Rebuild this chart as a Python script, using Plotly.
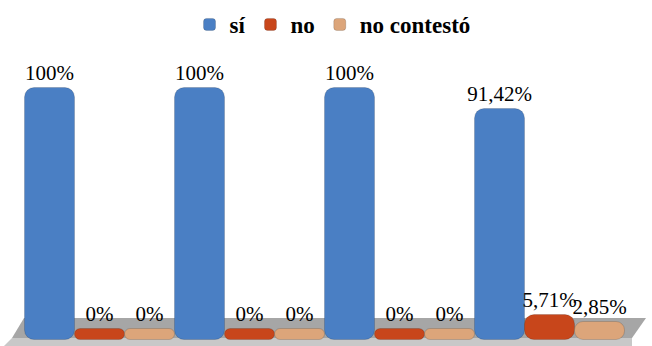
import plotly.graph_objects as go

categories = ["Grupo 1", "Grupo 2", "Grupo 3", "Grupo 4"]
series_names = ["sí", "no", "no contestó"]
si_values = [100, 100, 100, 91.42]
no_values = [0, 0, 0, 5.71]
nc_values = [0, 0, 0, 2.85]
colors = ["#4a7fc4", "#c8461b", "#dca57a"]

SLAB = 4.5  # visual floor thickness for the 3D-look bars
SERIF = "Liberation Serif"


def fmt(v):
    s = ("%.2f" % v).rstrip("0").rstrip(".")
    return s.replace(".", ",") + "%"


fig = go.Figure()
for name, vals, col in zip(series_names, [si_values, no_values, nc_values], colors):
    fig.add_trace(go.Bar(
        x=categories,
        y=[v + SLAB for v in vals],
        base=[-SLAB] * len(vals),
        name=name,
        marker=dict(color=col, line=dict(color="rgba(0,0,0,0.15)", width=1)),
        text=[fmt(v) for v in vals],
        textposition="outside",
        constraintext="none",
        textfont=dict(family=SERIF, size=21, color="black"),
        cliponaxis=False,
    ))

W, H = 652, 346
T, B = 40, 6
PH = H - T - B


def px(x):
    return x / W


def py(y):
    return (H - B - y) / PH


floor_path = "M {} {} L {} {} L {} {} L {} {} Z".format(
    px(24), py(318), px(646), py(318), px(632), py(338), px(12), py(338))
front_path = "M {} {} L {} {} L {} {} L {} {} Z".format(
    px(12), py(338), px(632), py(338), px(632), py(346), px(4), py(346))

fig.update_layout(
    width=W, height=H,
    margin=dict(l=0, r=0, t=T, b=B),
    paper_bgcolor="white", plot_bgcolor="white",
    font=dict(family=SERIF),
    barmode="group", bargap=0, bargroupgap=0,
    barcornerradius=10,
    showlegend=True,
    legend=dict(orientation="h", x=0.51, xanchor="center", y=py(3), yanchor="top",
                font=dict(family=SERIF, size=23, color="black", weight="bold"),
                itemwidth=30, traceorder="normal"),
    xaxis=dict(visible=False, range=[-0.667, 3.68]),
    yaxis=dict(visible=False, range=[-4.5, 119.9]),
    shapes=[
        dict(type="path", path=floor_path, xref="paper", yref="paper",
             fillcolor="#a6a6a6", line=dict(width=0), layer="below"),
        dict(type="path", path=front_path, xref="paper", yref="paper",
             fillcolor="#c8c8c8", line=dict(width=0), layer="below"),
    ],
)

fig.write_html("out.html")
